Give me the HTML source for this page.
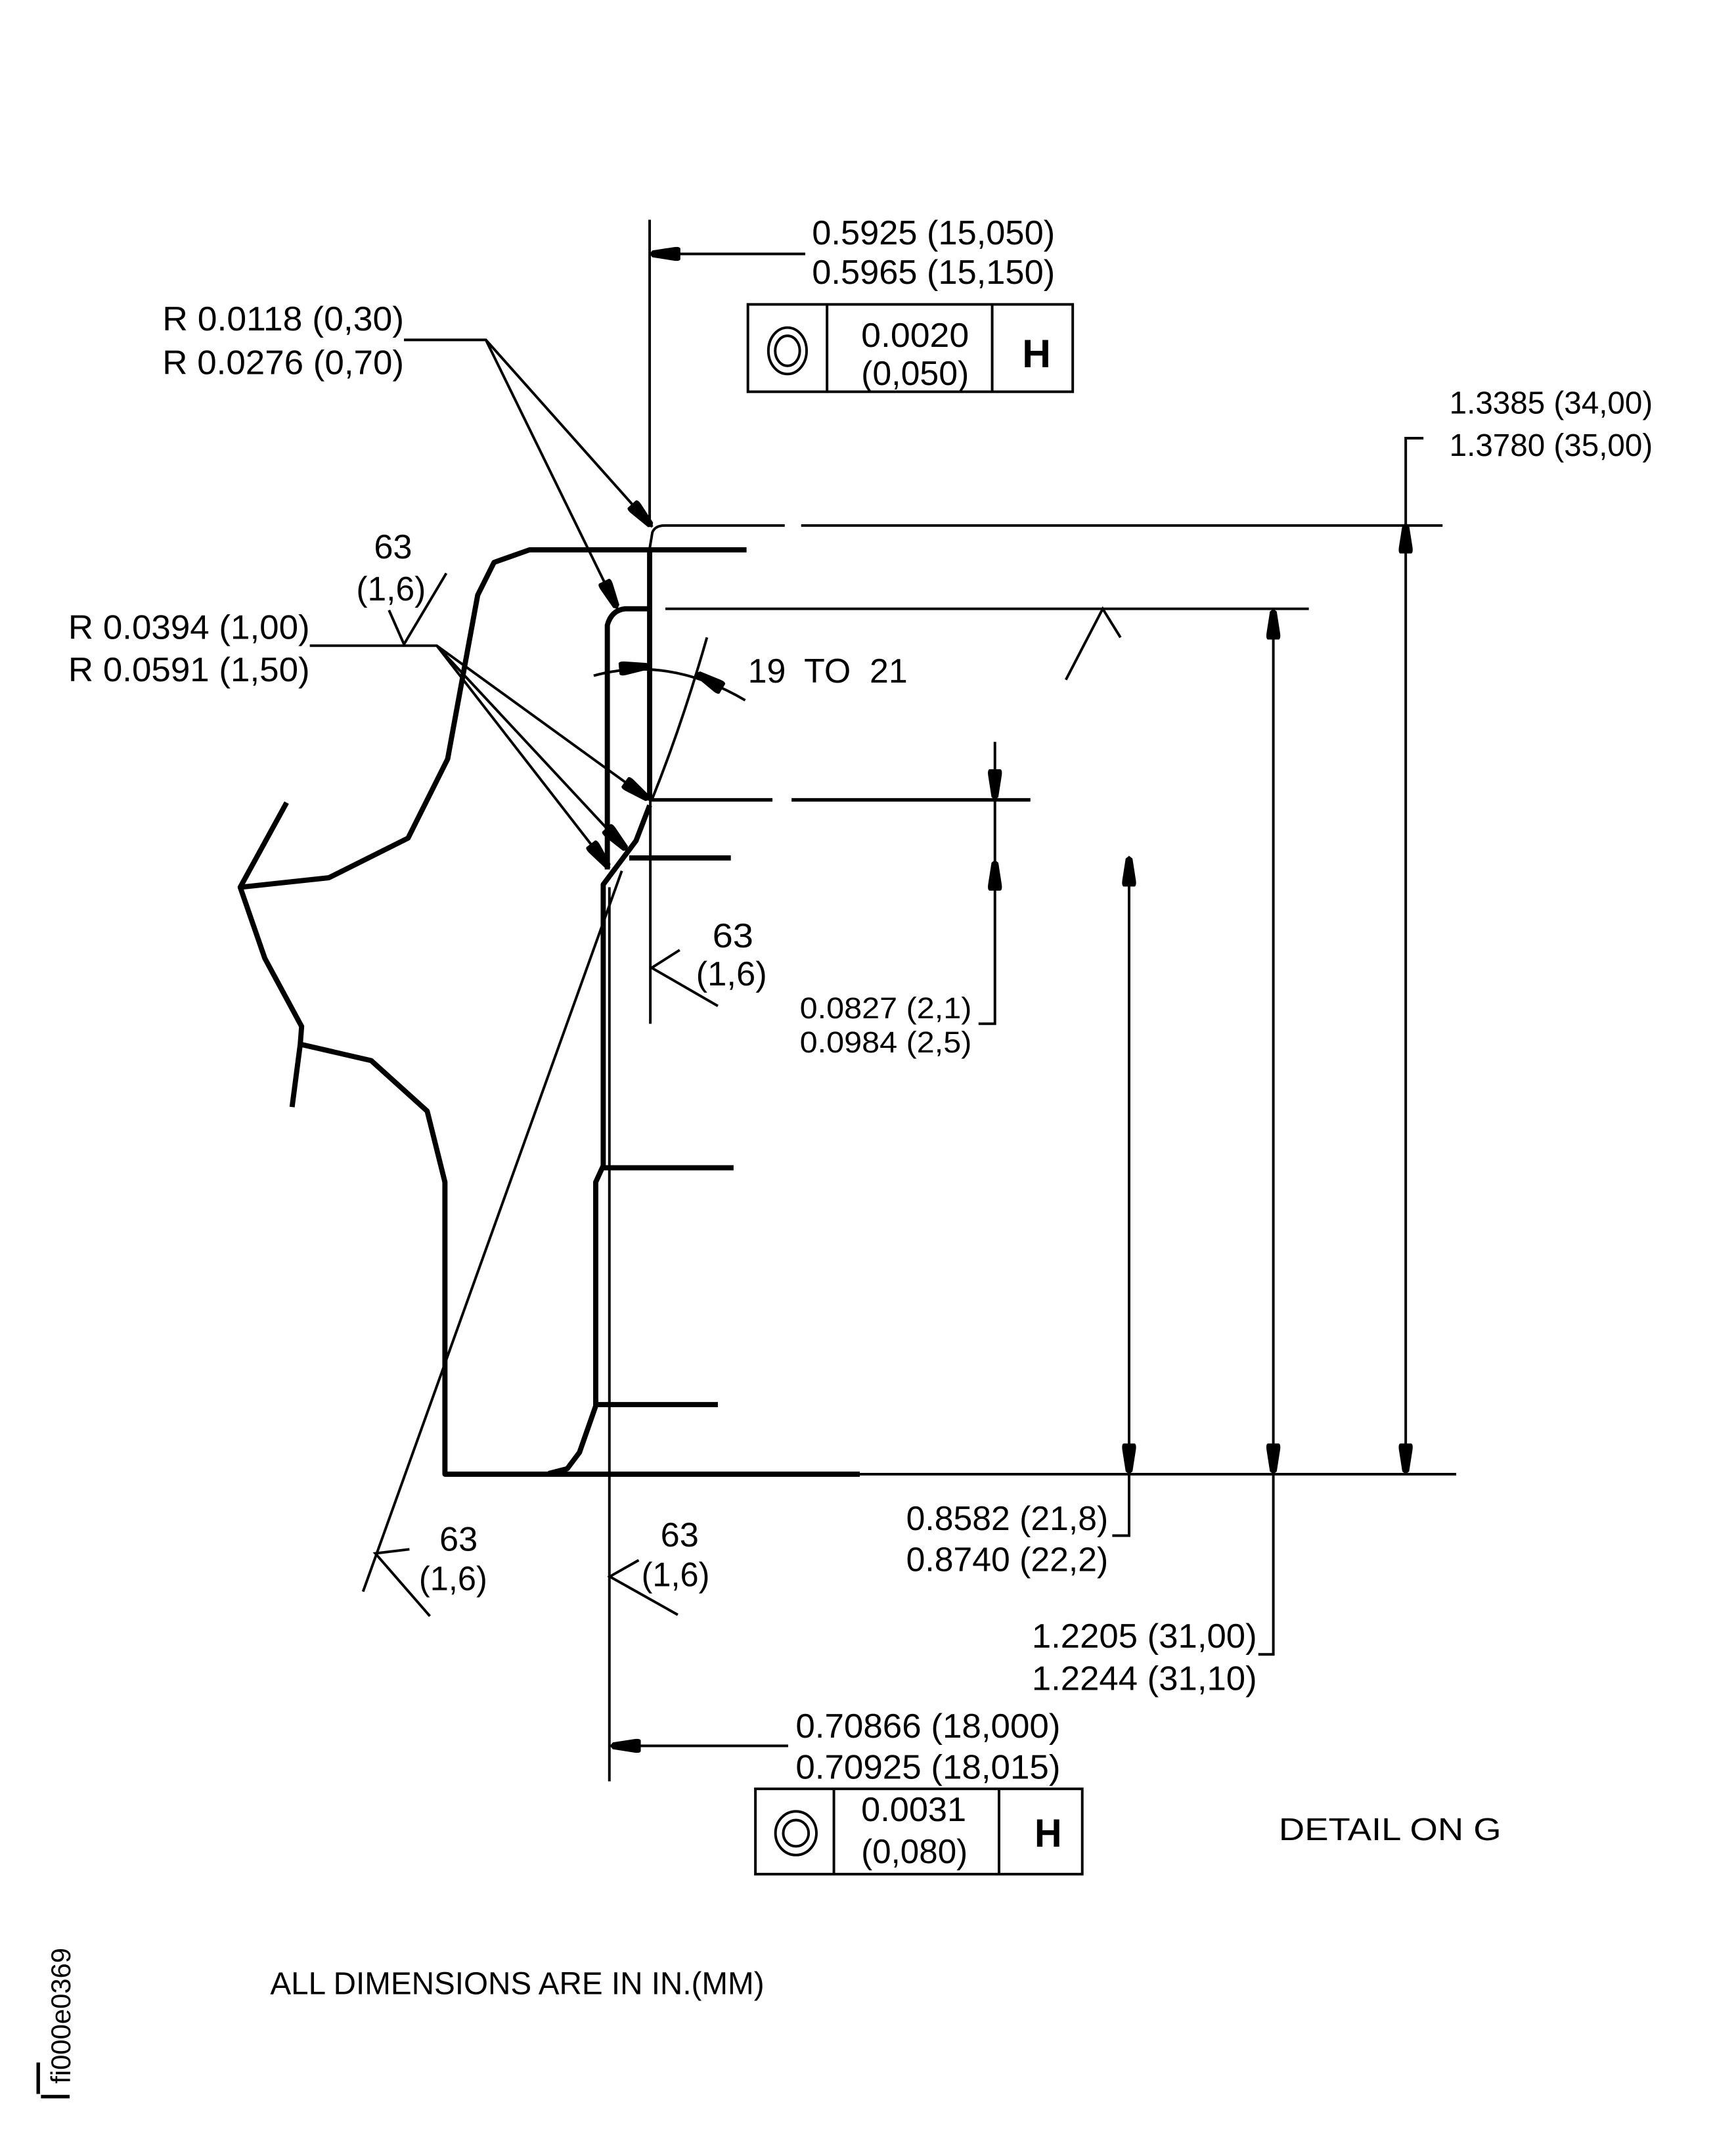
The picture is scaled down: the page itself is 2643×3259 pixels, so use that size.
<!DOCTYPE html>
<html><head><meta charset="utf-8"><style>
html,body{margin:0;padding:0;background:#fff}
svg{display:block}
text{font-family:"Liberation Sans",sans-serif;font-size:25px;fill:#000}
.s{font-size:23px}.x{font-size:22px}
.t{stroke:#000;stroke-width:1.9;fill:none}
.k{stroke:#000;stroke-width:3.8;fill:none;stroke-linejoin:round}
.m{stroke:#000;stroke-width:2.6;fill:none}
</style></head><body>
<svg xmlns="http://www.w3.org/2000/svg" width="2643" height="3259" viewBox="0 0 1272 1568.5">
<rect width="1272" height="1568.5" fill="#fff"/>
<defs><path id="a" d="M0,0 L-2,-2.5 L-18,-5 Q-22,-5.5 -22.5,-4 L-22.5,4 Q-22,5.5 -18,5 L-2,2.5 Z" fill="#000"/></defs>

<!-- profile -->
<path class="k" d="M547,402.8 H388 L362,412 L350,436 L328,556 L299,614 L241,643 L176,650 L210,588"/>
<path class="k" d="M176,650 L194,702 L221,752 L220,765 L214,811"/>
<path class="k" d="M220,765 L272,777 L313,814 L326,866 V1080 H630"/>
<path class="k" d="M476,402 V586"/>
<path class="k" d="M476,446 H458 Q448,447 445,458 V637"/>
<path class="k" d="M476,590 L466,616 L442,648 V854 L436.5,866 V1030 L424.6,1064 L415.6,1076 L402,1079.5"/>
<path class="k" d="M442,855.5 H537.5 M436.5,1029 H526 M461,628.5 H535.5"/>
<path class="m" d="M476,586 H566 M580,586 H755"/>

<!-- thin lines -->
<path class="t" d="M476,161 V384"/>
<path class="t" d="M476.5,586 V750"/>
<path class="t" d="M590,186 H476"/>
<path class="t" d="M575,385 H487 Q480,385 478,390 L476,402 M587,385 H1057"/>
<path class="t" d="M487.5,446 H959"/>
<path class="t" d="M630,1080 H1067"/>
<path class="t" d="M446.5,650 V1305"/>
<path class="t" d="M577.5,1279 H447"/>
<path class="t" d="M266,1166 L455.6,638"/>
<path class="t" d="M296,249 H356 L478,386 M356,249 L452.4,446"/>
<path class="t" d="M227,473 H320 L476,586 M320,473 L459.6,623 M320,473 L446.6,636"/>
<path class="t" d="M1043,321 H1030 V1080"/>
<path class="t" d="M729,543.5 V750 H717"/>
<path class="t" d="M827.3,628 V1125 H815"/>
<path class="t" d="M933,446 V1212 H922"/>
<path class="t" d="M435,495 Q490,480 546,513"/>
<path class="t" d="M518,467 Q500,530 478,585"/>
<path class="t" d="M781,498 L808,446 L821,467"/>
<path class="t" d="M300,1135 L275,1138 L315,1184"/>
<path class="t" d="M468,1143 L446.8,1155 L496.6,1183"/>
<path class="t" d="M498,696 L477.5,709 L526,737"/>
<path class="t" d="M285,447 L296,472 L327,420"/>
<path class="m" d="M28,1511 V1534 M30,1536 H51"/>

<!-- arrowheads -->
<use href="#a" transform="translate(476,186) rotate(180)"/>
<use href="#a" transform="translate(478,386) rotate(48)"/>
<use href="#a" transform="translate(452.4,446) rotate(64)"/>
<use href="#a" transform="translate(476,586) rotate(36)"/>
<use href="#a" transform="translate(459.6,623) rotate(47)"/>
<use href="#a" transform="translate(446.6,636) rotate(52.3)"/>
<use href="#a" transform="translate(476,488) rotate(-5)"/>
<use href="#a" transform="translate(510,493) rotate(211)"/>
<use href="#a" transform="translate(1030,383) rotate(-90)"/>
<use href="#a" transform="translate(1030,1080) rotate(90)"/>
<use href="#a" transform="translate(933,446) rotate(-90)"/>
<use href="#a" transform="translate(933,1080) rotate(90)"/>
<use href="#a" transform="translate(827.3,627) rotate(-90)"/>
<use href="#a" transform="translate(827.3,1080) rotate(90)"/>
<use href="#a" transform="translate(729,586) rotate(90)"/>
<use href="#a" transform="translate(729,630) rotate(-90)"/>
<use href="#a" transform="translate(447,1279) rotate(180)"/>

<!-- feature control frames -->
<rect class="t" x="548" y="223" width="238" height="64"/>
<path class="t" d="M606,223 V287 M727,223 V287"/>
<ellipse class="t" cx="577" cy="257" rx="14" ry="17"/>
<ellipse class="t" cx="577" cy="257" rx="9" ry="11"/>
<rect class="t" x="553.5" y="1310.5" width="239.5" height="62.5"/>
<path class="t" d="M611,1310.5 V1373 M732,1310.5 V1373"/>
<ellipse class="t" cx="583.2" cy="1343" rx="15" ry="16"/>
<ellipse class="t" cx="583.2" cy="1343" rx="9.3" ry="9.6"/>

<!-- text -->
<text x="595" y="179" textLength="178" lengthAdjust="spacingAndGlyphs">0.5925 (15,050)</text>
<text x="595" y="208" textLength="178" lengthAdjust="spacingAndGlyphs">0.5965 (15,150)</text>
<text x="631" y="254" textLength="79" lengthAdjust="spacingAndGlyphs">0.0020</text>
<text x="631" y="282" textLength="79" lengthAdjust="spacingAndGlyphs">(0,050)</text>
<text x="749" y="269" textLength="21" lengthAdjust="spacingAndGlyphs" font-weight="bold" style="font-size:29px">H</text>
<text x="119" y="242" textLength="177" lengthAdjust="spacingAndGlyphs">R 0.0118 (0,30)</text>
<text x="119" y="274" textLength="177" lengthAdjust="spacingAndGlyphs">R 0.0276 (0,70)</text>
<text class="s" x="1062" y="303" textLength="149" lengthAdjust="spacingAndGlyphs">1.3385 (34,00)</text>
<text class="s" x="1062" y="334" textLength="149" lengthAdjust="spacingAndGlyphs">1.3780 (35,00)</text>
<text x="274" y="409" textLength="28" lengthAdjust="spacingAndGlyphs">63</text>
<text x="261" y="440" textLength="51" lengthAdjust="spacingAndGlyphs">(1,6)</text>
<text x="50" y="468" textLength="177" lengthAdjust="spacingAndGlyphs">R 0.0394 (1,00)</text>
<text x="50" y="499" textLength="177" lengthAdjust="spacingAndGlyphs">R 0.0591 (1,50)</text>
<text x="548" y="500" textLength="117" lengthAdjust="spacingAndGlyphs" xml:space="preserve">19  TO  21</text>
<text x="522" y="694" textLength="30" lengthAdjust="spacingAndGlyphs">63</text>
<text x="510" y="722" textLength="52" lengthAdjust="spacingAndGlyphs">(1,6)</text>
<text class="x" x="586" y="746" textLength="126" lengthAdjust="spacingAndGlyphs">0.0827 (2,1)</text>
<text class="x" x="586" y="771" textLength="126" lengthAdjust="spacingAndGlyphs">0.0984 (2,5)</text>
<text x="664" y="1121" textLength="148" lengthAdjust="spacingAndGlyphs">0.8582 (21,8)</text>
<text x="664" y="1151" textLength="148" lengthAdjust="spacingAndGlyphs">0.8740 (22,2)</text>
<text x="322" y="1136" textLength="28" lengthAdjust="spacingAndGlyphs">63</text>
<text x="307" y="1165" textLength="50" lengthAdjust="spacingAndGlyphs">(1,6)</text>
<text x="484" y="1133" textLength="28" lengthAdjust="spacingAndGlyphs">63</text>
<text x="470" y="1162" textLength="50" lengthAdjust="spacingAndGlyphs">(1,6)</text>
<text x="756" y="1207" textLength="165" lengthAdjust="spacingAndGlyphs">1.2205 (31,00)</text>
<text x="756" y="1238" textLength="165" lengthAdjust="spacingAndGlyphs">1.2244 (31,10)</text>
<text x="583" y="1273" textLength="194" lengthAdjust="spacingAndGlyphs">0.70866 (18,000)</text>
<text x="583" y="1303" textLength="194" lengthAdjust="spacingAndGlyphs">0.70925 (18,015)</text>
<text x="631" y="1334" textLength="77" lengthAdjust="spacingAndGlyphs">0.0031</text>
<text x="631" y="1365" textLength="78" lengthAdjust="spacingAndGlyphs">(0,080)</text>
<text x="758" y="1353" textLength="20" lengthAdjust="spacingAndGlyphs" font-weight="bold" style="font-size:29px">H</text>
<text class="s" x="937" y="1348" textLength="163" lengthAdjust="spacingAndGlyphs">DETAIL ON G</text>
<text class="s" x="198" y="1461" textLength="362" lengthAdjust="spacingAndGlyphs">ALL DIMENSIONS ARE IN IN.(MM)</text>
<text transform="translate(51.5,1526.5) rotate(-90)" textLength="99.5" lengthAdjust="spacingAndGlyphs" style="font-size:20px">fi000e0369</text>
</svg>
</body></html>
